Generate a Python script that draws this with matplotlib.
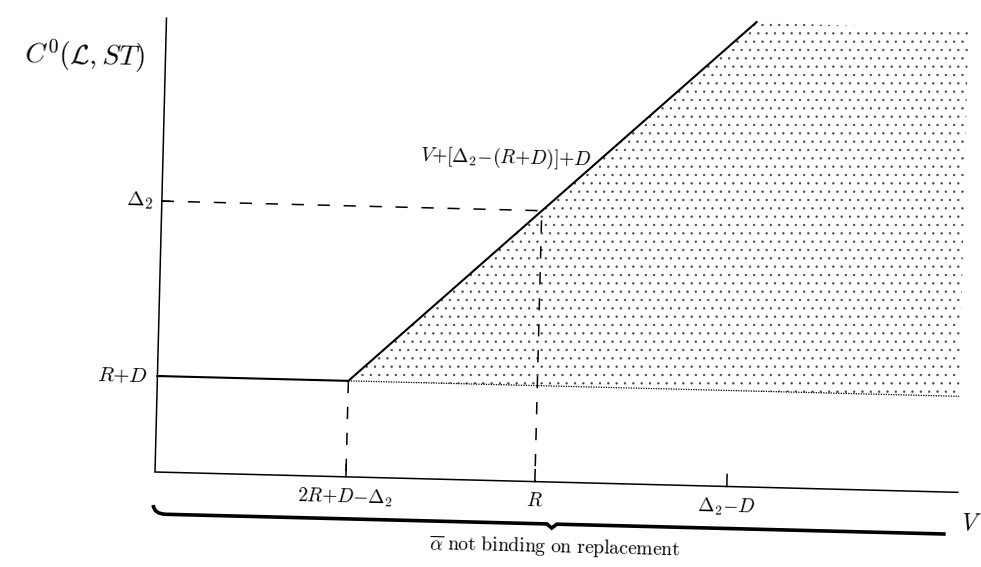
import numpy as np
import matplotlib.pyplot as plt
from matplotlib.transforms import Affine2D
from matplotlib.path import Path
from matplotlib.patches import PathPatch, Polygon

plt.rcParams['mathtext.fontset'] = 'cm'
plt.rcParams['hatch.linewidth'] = 0.45

# diagram values (1 unit ~ 100 px along the axes)
levels = [0.96, 2.71]
level_labels = [r'$R{+}D$', r'$\Delta_2$']
vticks = [1.91, 3.80, 5.72]
vtick_labels = [r'$2R{+}D{-}\Delta_2$', r'$R$', r'$\Delta_2{-}D$']
line_v = [0.0, 1.91, 5.90]
line_c = [0.96, 0.96, 4.65]
region_v = [1.91, 5.90, 8.02, 8.02]
region_c = [0.96, 4.65, 4.62, 0.96]
v_max = 8.03
c_max = 4.54
tilt = -1.45  # scan is slightly rotated

fig = plt.figure(figsize=(9.81, 5.67), dpi=100)
ax = fig.add_axes([0, 0, 1, 1])
ax.set_xlim(-1.55, 8.26)
ax.set_ylim(-0.95, 4.72)
ax.axis('off')
tr = ax.transData + Affine2D().rotate_deg_around(155, 95, tilt)

# dotted region
ax.add_patch(Polygon(np.column_stack([region_v, region_c]), closed=True,
                     facecolor='none', edgecolor='#444444', lw=0, hatch='..',
                     transform=tr))
ax.plot([region_v[0], region_v[-1]], [region_c[0], region_c[-1]], color='k',
        lw=0.9, ls=(0, (1, 1)), transform=tr)

# axes
ax.plot([0, 0, v_max], [c_max, 0, 0], color='k', lw=1.1, transform=tr,
        solid_joinstyle='miter')
for v in vticks:
    ax.plot([v, v], [0, 0.12], color='k', lw=1.1, transform=tr)
for c in levels:
    ax.plot([0, 0.08], [c, c], color='k', lw=1.1, transform=tr)

# main curve
ax.plot(line_v, line_c, color='k', lw=1.5, transform=tr)

# dashed guides
ax.plot([0, vticks[1], vticks[1]], [levels[1], levels[1], 0], color='k', lw=1.1,
        ls=(0, (8, 9)), transform=tr)
ax.plot([vticks[0], vticks[0]], [levels[0], 0], color='k', lw=1.1,
        ls=(0, (8, 9)), transform=tr)

# labels
kw = dict(transform=tr, rotation=tilt, rotation_mode='anchor')
for c, lab in zip(levels, level_labels):
    ax.text(-0.09, c, lab, fontsize=15, ha='right', va='center', **kw)
for v, lab in zip(vticks, vtick_labels):
    ax.text(v, -0.1, lab, fontsize=14, ha='center', va='top', **kw)
ax.text(-0.21, 4.14, r'$C^0(\mathcal{L},ST)$', fontsize=20, ha='right', va='center', **kw)
ax.text(3.43, 3.23, r'$V{+}[\Delta_2{-}(R{+}D)]{+}D$', fontsize=14, ha='center', va='center', **kw)
ax.text(8.07, -0.30, r'$V$', fontsize=17, ha='left', va='center', **kw)

# brace under the axis
verts = [(-0.01, -0.33), (0.0, -0.42), (0.12, -0.42), (3.93, -0.42),
         (3.98, -0.46), (4.03, -0.42), (7.92, -0.42)]
codes = [Path.MOVETO, Path.CURVE3, Path.CURVE3, Path.LINETO,
         Path.LINETO, Path.LINETO, Path.LINETO]
ax.add_patch(PathPatch(Path(verts, codes), facecolor='none', edgecolor='k',
                       lw=2.6, transform=tr, capstyle='butt'))
ax.text(4.02, -0.66, r'$\overline{\alpha}\ \mathrm{not\ binding\ on\ replacement}$',
        fontsize=14, ha='center', va='center', **kw)

fig.savefig('out.png', dpi=100)
